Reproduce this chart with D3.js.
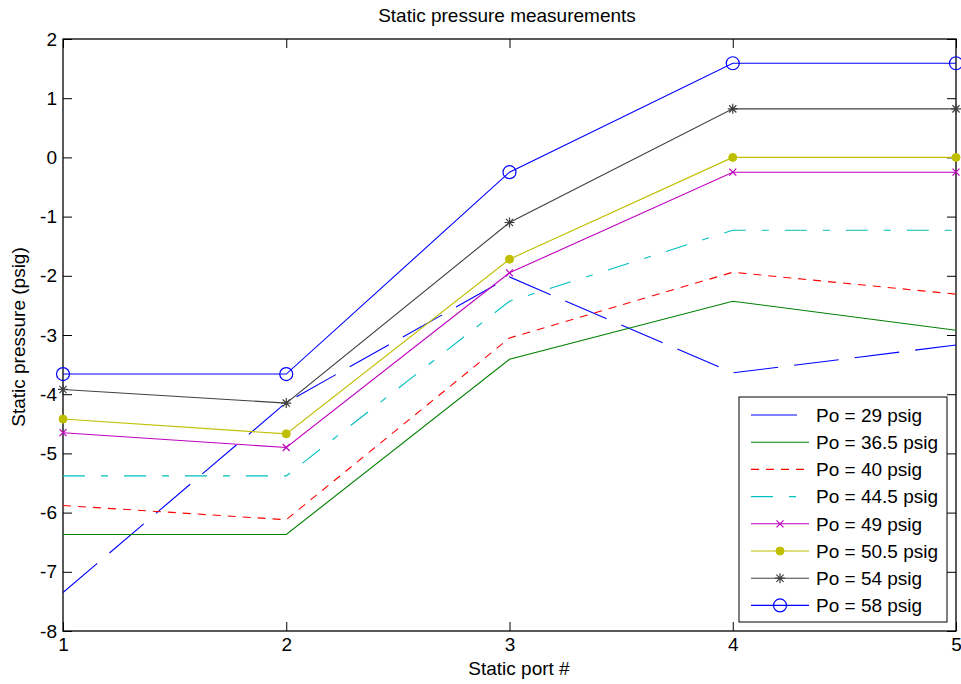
<!DOCTYPE html>
<html><head><meta charset="utf-8">
<script src="https://cdn.jsdelivr.net/npm/d3@7"></script>
<style>
body{margin:0;background:#fff;}
svg{display:block;}
text{font-family:Arial,"Liberation Sans",sans-serif;}
</style></head>
<body>
<svg id="chart" width="961" height="684"></svg>
<script>
const ports = [1, 2, 3, 4, 5];
const seriesNames = ["Po = 29 psig","Po = 36.5 psig","Po = 40 psig","Po = 44.5 psig","Po = 49 psig","Po = 50.5 psig","Po = 54 psig","Po = 58 psig"];
const po29   = [-7.35, -4.14, -2.02, -3.64, -3.17];
const po36_5 = [-6.37, -6.37, -3.41, -2.43, -2.92];
const po40   = [-5.88, -6.12, -3.05, -1.94, -2.31];
const po44_5 = [-5.38, -5.38, -2.43, -1.23, -1.23];
const po49   = [-4.65, -4.90, -1.95, -0.25, -0.25];
const po50_5 = [-4.42, -4.67, -1.72, 0.00, 0.00];
const po54   = [-3.92, -4.15, -1.10, 0.82, 0.82];
const po58   = [-3.66, -3.66, -0.25, 1.59, 1.59];
const xTicks = [1, 2, 3, 4, 5];
const yTicks = [-8, -7, -6, -5, -4, -3, -2, -1, 0, 1, 2];
const titleText = "Static pressure measurements";
const xLabel = "Static port #";
const yLabel = "Static pressure (psig)";

const allValues = [po29, po36_5, po40, po44_5, po49, po50_5, po54, po58];
const styles = [
  {color:"#0000ff", dash:"45,16", marker:null},
  {color:"#008000", dash:null, marker:null},
  {color:"#ff0000", dash:"8,7", marker:null},
  {color:"#00bfbf", dash:"22,16,7,16", marker:null},
  {color:"#bf00bf", dash:null, marker:"x"},
  {color:"#bfbf00", dash:null, marker:"dot"},
  {color:"#404040", dash:null, marker:"star"},
  {color:"#0000ff", dash:null, marker:"circle"}
];

const L = 63, R = 956, T = 39, B = 631;
const svg = d3.select("#chart");
const x = d3.scaleLinear().domain([1,5]).range([L,R]);
const y = d3.scaleLinear().domain([-8,2]).range([B,T]);

const FS = 19;
const fmt = d => String(d);
svg.append("defs").append("clipPath").attr("id","clip")
  .append("rect").attr("x",L).attr("y",T).attr("width",R-L).attr("height",B-T);

const gl = svg.append("g").attr("transform",`translate(${L},0)`)
  .call(d3.axisLeft(y).tickValues(yTicks).tickSize(-9).tickPadding(6).tickFormat(fmt));
const gr = svg.append("g").attr("transform",`translate(${R},0)`)
  .call(d3.axisRight(y).tickValues(yTicks).tickSize(-9).tickFormat(""));
const gb = svg.append("g").attr("transform",`translate(0,${B})`)
  .call(d3.axisBottom(x).tickValues(xTicks).tickSize(-9).tickPadding(7).tickFormat(fmt));
const gt = svg.append("g").attr("transform",`translate(0,${T})`)
  .call(d3.axisTop(x).tickValues(xTicks).tickSize(-9).tickFormat(""));
[gl,gr,gb,gt].forEach(g=>{
  g.select(".domain").remove();
  g.selectAll("line").attr("stroke","#000");
  g.selectAll("text").attr("font-size",FS).attr("fill","#000").style("font-family","Arial, 'Liberation Sans', sans-serif");
});
svg.append("rect").attr("x",L).attr("y",T).attr("width",R-L).attr("height",B-T)
  .attr("fill","none").attr("stroke","#000").attr("stroke-width",1.3);

const line = d3.line().x((d,i)=>x(ports[i])).y(d=>y(d));
const plot = svg.append("g").attr("clip-path","url(#clip)");

function drawMarker(g, type, cx, cy, color){
  if(type==="circle"){
    g.append("circle").attr("cx",cx).attr("cy",cy).attr("r",6.5).attr("fill","none").attr("stroke",color).attr("stroke-width",1.2);
  } else if(type==="dot"){
    g.append("circle").attr("cx",cx).attr("cy",cy).attr("r",4).attr("fill",color).attr("stroke",color);
  } else if(type==="x"){
    const s=3.5;
    g.append("path").attr("d",`M${cx-s},${cy-s}L${cx+s},${cy+s}M${cx-s},${cy+s}L${cx+s},${cy-s}`).attr("stroke",color).attr("stroke-width",1.2);
  } else if(type==="star"){
    const s=5, d=3.6;
    g.append("path").attr("d",`M${cx-s},${cy}L${cx+s},${cy}M${cx},${cy-s}L${cx},${cy+s}M${cx-d},${cy-d}L${cx+d},${cy+d}M${cx-d},${cy+d}L${cx+d},${cy-d}`).attr("stroke",color).attr("stroke-width",1.2);
  }
}

allValues.forEach((vals,k)=>{
  const st = styles[k];
  plot.append("path").datum(vals).attr("d",line).attr("fill","none")
    .attr("stroke",st.color).attr("stroke-width",1.1)
    .attr("stroke-dasharray",st.dash);
});
allValues.forEach((vals,k)=>{
  const st = styles[k];
  if(st.marker){
    const g = svg.append("g");
    vals.forEach((v,i)=>drawMarker(g, st.marker, x(ports[i]), y(v), st.color));
  }
});

const lg = svg.append("g");
const LX = 739, LY = 397, LW = 208, LH = 225, rowH = 27.2;
lg.append("rect").attr("x",LX).attr("y",LY).attr("width",LW).attr("height",LH)
  .attr("fill","#fff").attr("stroke","#000").attr("stroke-width",1);
seriesNames.forEach((name,k)=>{
  const st = styles[k];
  const cy = LY + 18 + k*rowH;
  const legDash = k===0 ? null : (k===3 ? "22,16,7,16" : st.dash);
  const x2 = k===0 ? 797 : 809;
  lg.append("line").attr("x1",751).attr("x2",x2).attr("y1",cy).attr("y2",cy)
    .attr("stroke",st.color).attr("stroke-width",1.1).attr("stroke-dasharray",legDash);
  if(st.marker) drawMarker(lg, st.marker, 780, cy, st.color);
  lg.append("text").attr("x",816).attr("y",cy).attr("dy","0.36em")
    .attr("font-size",FS).attr("fill","#000").text(name);
});

svg.append("text").attr("x",507).attr("y",22).attr("text-anchor","middle")
  .attr("font-size",FS).attr("fill","#000").text(titleText);
svg.append("text").attr("x",519).attr("y",675).attr("text-anchor","middle")
  .attr("font-size",FS).attr("fill","#000").text(xLabel);
svg.append("text").attr("transform","translate(25,337) rotate(-90)").attr("text-anchor","middle")
  .attr("font-size",FS).attr("fill","#000").text(yLabel);
</script>
</body></html>
